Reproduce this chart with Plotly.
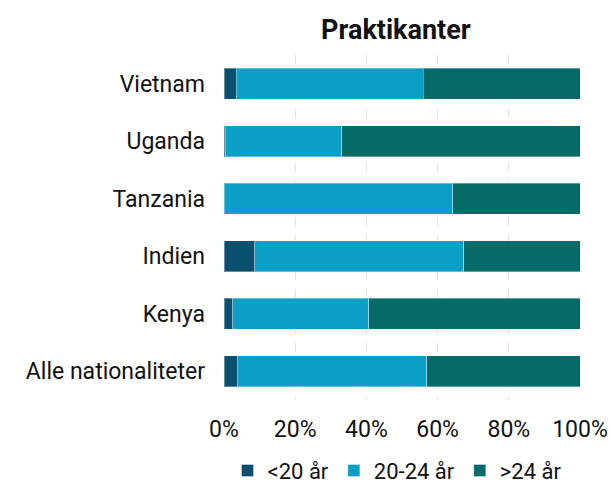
import plotly.graph_objects as go

categories = ["Vietnam", "Uganda", "Tanzania", "Indien", "Kenya", "Alle nationaliteter"]
under20 = [3.4, 0.5, 0.0, 8.7, 2.5, 3.9]
age20_24 = [52.5, 32.6, 64.3, 58.7, 38.2, 53.1]
over24 = [44.1, 66.9, 35.7, 32.6, 59.3, 43.0]
series_names = ["<20 år", "20-24 år", ">24 år"]
colors = ["#0a4f6d", "#0b9ec7", "#066b67"]
tick_vals = [0, 20, 40, 60, 80, 100]
tick_text = ["0%", "20%", "40%", "60%", "80%", "100%"]

FONT = "Roboto"
fig = go.Figure()
for name, vals, col in zip(series_names, [under20, age20_24, over24], colors):
    fig.add_trace(go.Bar(
        y=categories, x=vals, name=name, orientation="h",
        marker=dict(color=col, line=dict(color="rgba(255,255,255,0.35)", width=1)),
    ))

fig.update_layout(
    width=611, height=488,
    barmode="stack", bargap=0.46,
    plot_bgcolor="white", paper_bgcolor="white",
    margin=dict(l=224, r=31, t=55, b=88, autoexpand=False),
    font=dict(family=FONT, size=23, color="#111111"),
    title=dict(text="<b>Praktikanter</b>", x=0.648, xref="container", xanchor="center",
               y=0.94, yref="container", yanchor="middle",
               font=dict(family=FONT, size=27, color="#111111")),
    xaxis=dict(range=[0, 100], tickvals=tick_vals, ticktext=tick_text,
               showgrid=True, gridcolor="#e2e2e2", griddash="dash", gridwidth=1,
               zeroline=False, showline=False, ticks="", tickfont=dict(size=23),
               automargin=False, ticklabelstandoff=13),
    yaxis=dict(autorange="reversed", showgrid=False, showline=False, ticks="",
               tickfont=dict(size=23), automargin=False, ticklabelstandoff=18),
    legend=dict(orientation="h", x=0.486, xanchor="center", y=-0.205, yanchor="middle",
                font=dict(size=22), traceorder="normal", itemwidth=30),
)

fig.write_html("out.html",
               config={"displayModeBar": False},
               post_script="document.body.style.margin='0';document.body.style.overflow='hidden';")
